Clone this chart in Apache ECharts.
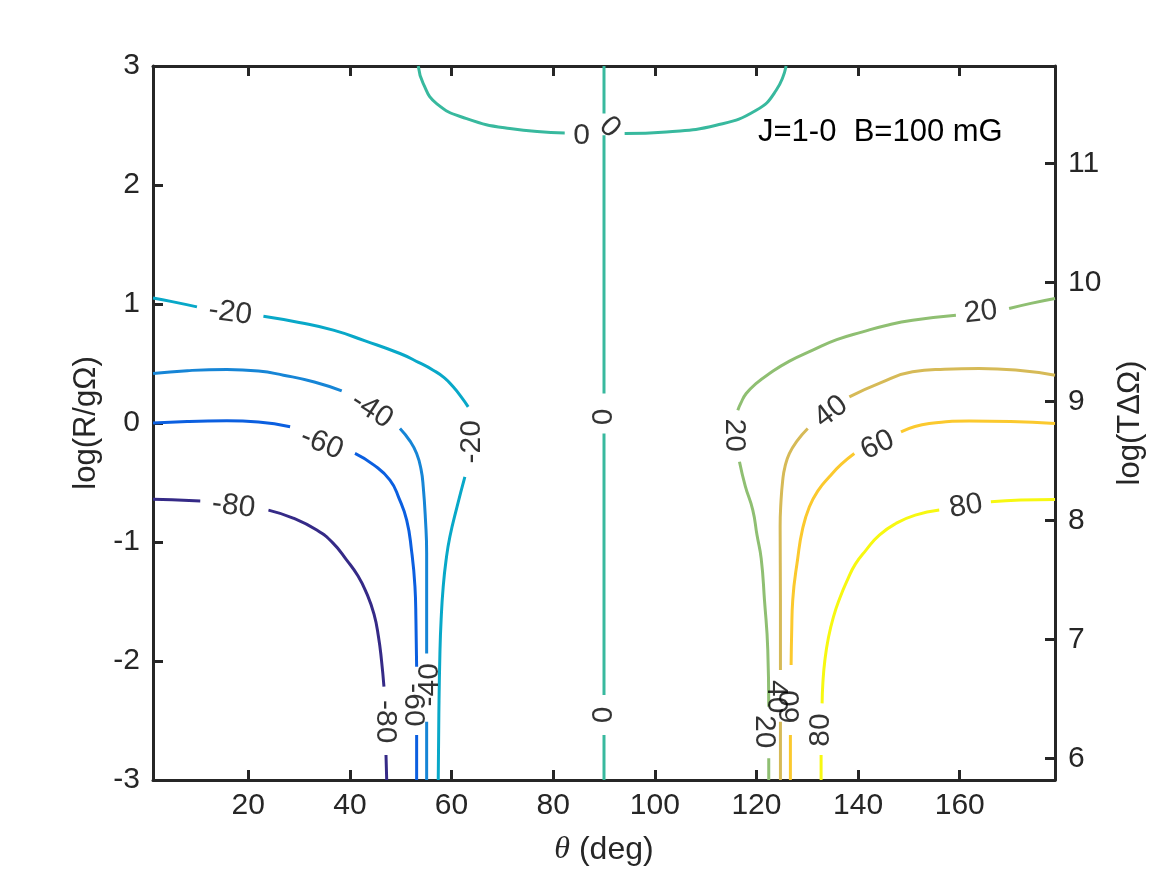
<!DOCTYPE html>
<html>
<head>
<meta charset="utf-8">
<script src="https://cdn.jsdelivr.net/npm/echarts@6/dist/echarts.min.js"></script>
<style>
html,body{margin:0;padding:0;background:#fff;}
#chart{width:1167px;height:875px;}
</style>
</head>
<body>
<div id="chart"></div>
<script>
// ---------- tick labels ----------
const thetaTicks = [20, 40, 60, 80, 100, 120, 140, 160];
const logRTicks = [-3, -2, -1, 0, 1, 2, 3];
const logTTicks = [6, 7, 8, 9, 10, 11];

// ---------- contour lines (theta [deg], log(R/gΩ)); each contour is a list of segments ----------
const contourM80 = [
  [[1.25,-0.64],[5,-0.645],[10.55,-0.656]],
  [[23.97,-0.732],[28.82,-0.799],[33.48,-0.90],[36.68,-1.009],[39.37,-1.152],[41.6,-1.286],[43.3,-1.432],[44.74,-1.606],[45.62,-1.796],[46.21,-1.992],[46.70,-2.216]],
  [[47.10,-2.79],[47.24,-3]]
];
const contourM60 = [
  [[1.25,0.0],[8,0.013],[15.79,0.018],[22,0.008],[28.23,-0.032]],
  [[41.0,-0.256],[44.74,-0.354],[47.88,-0.48],[49.65,-0.631],[51.17,-0.816],[52.11,-1.066],[52.80,-1.376],[52.99,-1.656],[53.13,-2.048]],
  [[53.13,-2.622],[53.13,-3]]
];
const contourM40 = [
  [[1.25,0.416],[8,0.44],[15.79,0.45],[22,0.437],[26.92,0.402],[33,0.345],[38.39,0.27]],
  [[49.85,-0.046],[51.8,-0.15],[53.13,-0.256],[54.0,-0.39],[54.43,-0.536],[54.85,-0.80],[55.1,-1.096],[55.1,-1.50],[55.1,-1.936]],
  [[55.1,-2.51],[55.1,-3]]
];
const contourM20 = [
  [[1.25,1.051],[5,1.02],[9.90,0.976]],
  [[22.98,0.897],[30,0.845],[36.74,0.78],[43,0.69],[49.85,0.584],[53.5,0.51],[56.39,0.444],[58.6,0.38],[60.32,0.304],[61.9,0.22],[63.27,0.136]],
  [[62.62,-0.452],[61.1,-0.70],[59.67,-0.956],[58.9,-1.16],[58.36,-1.376],[57.95,-1.65],[57.71,-1.936],[57.5,-2.45],[57.38,-3]]
];
const contourZeroTop = [
  [[53.45,3.0],[54.43,2.852],[57.06,2.684],[62.96,2.558],[71.47,2.474],[82.27,2.437]],
  [[94.06,2.432],[102.26,2.446],[112.08,2.502],[119.95,2.628],[123.88,2.796],[125.84,3.0]]
];
const contourZeroVert = [
  [[90,3],[90,2.60]],
  [[90,2.418],[90,0.248]],
  [[90,-0.088],[90,-2.286]],
  [[90,-2.622],[90,-3]]
];
const contourP20 = [
  [[178.75,1.046],[174,1.005],[169.72,0.962]],
  [[159.25,0.906],[150.72,0.864],[145.5,0.82],[140.89,0.766],[135.8,0.70],[131.07,0.612],[126.5,0.52],[122.56,0.416],[119.9,0.33],[117.98,0.248],[116.9,0.165],[116.33,0.108]],
  [[116.66,-0.326],[117.8,-0.53],[119.28,-0.732],[120.1,-0.94],[120.93,-1.138],[121.58,-1.488],[122.23,-1.908],[122.42,-2.384]],
  [[122.42,-2.818],[122.42,-3]]
];
const contourP40 = [
  [[178.75,0.402],[171,0.445],[163.83,0.458],[157,0.452],[150.72,0.43],[144.5,0.34],[138.28,0.22]],
  [[130.09,-0.046],[128.0,-0.15],[126.49,-0.256],[125.6,-0.37],[125.17,-0.48],[124.8,-0.68],[124.66,-0.872],[124.72,-1.488],[124.72,-2.076]],
  [[124.72,-2.51],[124.72,-3]]
];
const contourP60 = [
  [[178.75,-0.004],[170,0.012],[161.86,0.016],[154.0,-0.004],[148.44,-0.074]],
  [[139.26,-0.256],[136.71,-0.346],[134.35,-0.452],[132.19,-0.564],[130.42,-0.704],[129.04,-0.898],[128.12,-1.138],[127.14,-1.488],[126.94,-1.74],[126.82,-2.034]],
  [[126.68,-2.622],[126.68,-3]]
];
const contourP80 = [
  [[178.75,-0.642],[172,-0.648],[166.13,-0.662]],
  [[155.97,-0.732],[151.25,-0.774],[147.46,-0.844],[144.18,-0.942],[141.56,-1.068],[139.46,-1.186],[137.89,-1.32],[136.41,-1.471],[135.14,-1.631],[134.15,-1.807],[133.47,-1.992],[133.07,-2.185],[132.92,-2.356]],
  [[132.72,-2.79],[132.72,-3]]
];

// ---------- inline contour labels ----------
const labelTexts = ['-20','-40','-60','-80','-20','-80','-60','-40','0','0','0','0','20','40','60','80','20','20','40','60','80'];
const labelTheta = [16.44,44.29,34.46,17.09,63.94,46.9,52.46,55.74,85.61,91.12,90,90,164.16,134.68,143.84,161.22,115.68,121.58,123.88,126.82,132.72];
const labelLogR  = [0.925,0.108,-0.172,-0.70,-0.158,-2.51,-2.37,-2.20,2.41,2.485,0.052,-2.454,0.93,0.094,-0.186,-0.70,-0.102,-2.594,-2.30,-2.384,-2.58];
const labelAngle = [-8,-33,-22,-7,90,-90,-90,90,0,-45,90,90,7,37,25,9,-90,-90,-90,90,90];

const annotationText = 'J=1-0  B=100 mG';

// ---------- styles ----------
const FONT = '"Liberation Sans", Arial, Helvetica, sans-serif';
const AX = '#262626';
const contourDefs = [
  {name: '-80', segs: contourM80, color: '#352a87'},
  {name: '-60', segs: contourM60, color: '#0b5fe0'},
  {name: '-40', segs: contourM40, color: '#1685d6'},
  {name: '-20', segs: contourM20, color: '#08a8c8'},
  {name: '0 (top)', segs: contourZeroTop, color: '#38b99e'},
  {name: '0', segs: contourZeroVert, color: '#38b99e'},
  {name: '20', segs: contourP20, color: '#8fbf72'},
  {name: '40', segs: contourP40, color: '#d6ba57'},
  {name: '60', segs: contourP60, color: '#fbc92e'},
  {name: '80', segs: contourP80, color: '#f7f811'}
];

function joinSegments(segs) {
  const out = [];
  segs.forEach((s, i) => {
    if (i > 0) out.push(['-', '-']);
    s.forEach(p => out.push(p));
  });
  return out;
}

const series = contourDefs.map(d => ({
  name: d.name,
  type: 'line',
  xAxisIndex: 0,
  yAxisIndex: 0,
  data: joinSegments(d.segs),
  showSymbol: false,
  symbol: 'none',
  smooth: 0.5,
  connectNulls: false,
  lineStyle: {color: d.color, width: 3},
  silent: true,
  z: 2
}));

series.push({
  type: 'scatter',
  xAxisIndex: 0,
  yAxisIndex: 0,
  symbolSize: 0,
  silent: true,
  z: 5,
  data: labelTexts.map((t, i) => ({
    value: [labelTheta[i], labelLogR[i]],
    label: {
      show: true,
      formatter: t,
      rotate: labelAngle[i],
      position: 'inside',
      align: 'center',
      verticalAlign: 'middle',
      color: '#000',
      fontSize: 30,
      fontFamily: FONT
    }
  }))
});

// keep the right axis and top axis attached to data
series.push({type: 'line', xAxisIndex: 1, yAxisIndex: 1, data: [], silent: true});

const chart = echarts.init(document.getElementById('chart'), null, {renderer: 'canvas'});
chart.setOption({
  animation: false,
  backgroundColor: '#ffffff',
  grid: {left: 153, right: 112, top: 66, bottom: 95, containLabel: false, outerBoundsMode: 'none'},
  xAxis: [
    {
      type: 'value', position: 'bottom', min: 1.25, max: 178.75,
      name: '{i|θ} (deg)', nameLocation: 'middle', nameGap: 54,
      nameTextStyle: {color: AX, fontSize: 32, fontFamily: FONT,
        rich: {i: {fontStyle: 'italic', fontFamily: '"Liberation Serif", "DejaVu Serif", serif', fontSize: 32, color: AX}}},
      axisLine: {show: true, onZero: false, lineStyle: {color: AX, width: 3}},
      axisTick: {show: true, inside: true, length: 10, lineStyle: {color: AX, width: 3}, customValues: thetaTicks},
      axisLabel: {show: true, color: AX, fontSize: 30, fontFamily: FONT, margin: 11, customValues: thetaTicks},
      splitLine: {show: false}
    },
    {
      type: 'value', position: 'top', min: 1.25, max: 178.75,
      axisLine: {show: true, onZero: false, lineStyle: {color: AX, width: 3}},
      axisTick: {show: true, inside: true, length: 10, lineStyle: {color: AX, width: 3}, customValues: thetaTicks},
      axisLabel: {show: false},
      splitLine: {show: false}
    }
  ],
  yAxis: [
    {
      type: 'value', position: 'left', min: -3, max: 3,
      name: 'log(R/gΩ)', nameLocation: 'middle', nameGap: 48, nameRotate: 90,
      nameTextStyle: {color: AX, fontSize: 31, fontFamily: FONT},
      axisLine: {show: true, onZero: false, lineStyle: {color: AX, width: 3}},
      axisTick: {show: true, inside: true, length: 10, lineStyle: {color: AX, width: 3}, customValues: logRTicks},
      axisLabel: {show: true, color: AX, fontSize: 30, fontFamily: FONT, margin: 13, customValues: logRTicks},
      splitLine: {show: false}
    },
    {
      type: 'value', position: 'right', min: 5.818, max: 11.818,
      name: 'log(TΔΩ)', nameLocation: 'middle', nameGap: 60, nameRotate: 90,
      nameTextStyle: {color: AX, fontSize: 31, fontFamily: FONT},
      axisLine: {show: true, onZero: false, lineStyle: {color: AX, width: 3}},
      axisTick: {show: true, inside: true, length: 10, lineStyle: {color: AX, width: 3}, customValues: logTTicks},
      axisLabel: {show: true, color: AX, fontSize: 30, fontFamily: FONT, margin: 13, customValues: logTTicks},
      splitLine: {show: false}
    }
  ],
  graphic: [{
    type: 'text', left: 758, top: 117, z: 10,
    style: {text: annotationText, fill: '#000', font: '31px ' + FONT}
  }],
  series: series
});
</script>
</body>
</html>
